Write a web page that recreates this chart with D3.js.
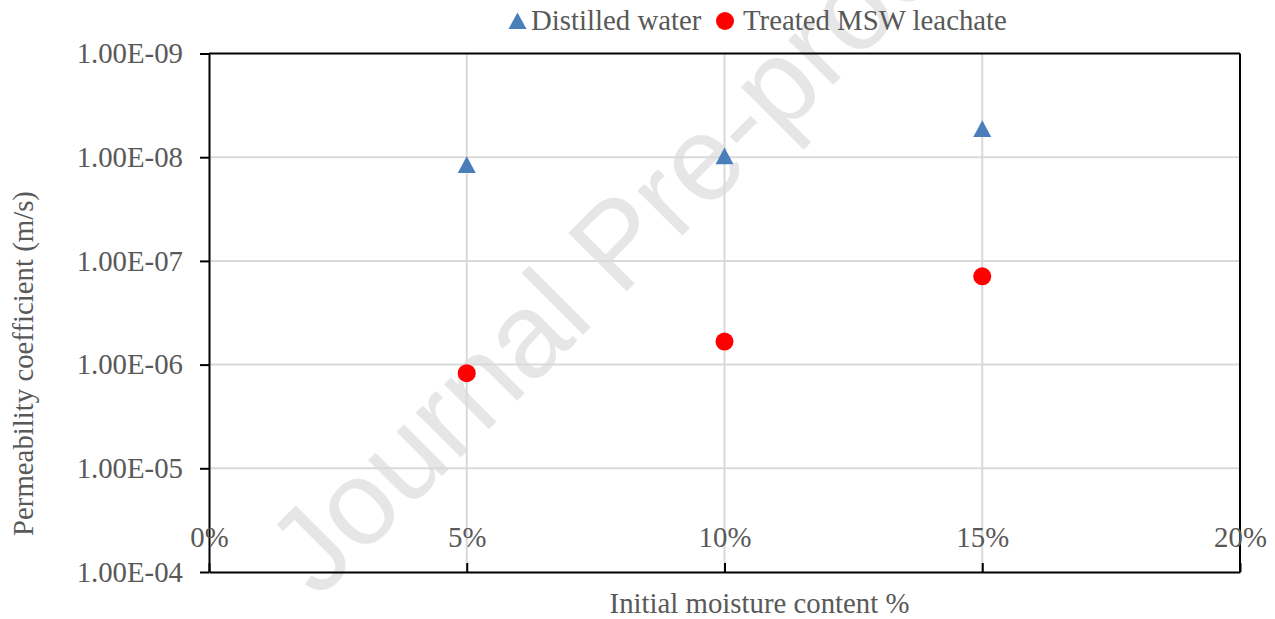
<!DOCTYPE html>
<html>
<head>
<meta charset="utf-8">
<script src="https://cdn.jsdelivr.net/npm/d3@7"></script>
<style>
  html, body { margin: 0; padding: 0; background: #ffffff; }
  svg { display: block; }
</style>
</head>
<body>
<div id="chart"></div>
<script>
// ---- Data ----
const moisture = [0.05, 0.10, 0.15];
const distilledWater = [1.18e-8, 9.7e-9, 5.3e-9];
const treatedLeachate = [1.21e-6, 6.0e-7, 1.41e-7];
const seriesNames = ["Distilled water", "Treated MSW leachate"];
const xTickValues = [0, 0.05, 0.10, 0.15, 0.20];
const xTickLabels = ["0%", "5%", "10%", "15%", "20%"];
const yTickValues = [1e-9, 1e-8, 1e-7, 1e-6, 1e-5, 1e-4];
const yTickLabels = ["1.00E-09", "1.00E-08", "1.00E-07", "1.00E-06", "1.00E-05", "1.00E-04"];
const xTitle = "Initial moisture content %";
const yTitle = "Permeability coefficient (m/s)";
const watermarkText = "Journal Pre-proof";

(function () {
// ---- Layout ----
const W = 1275, H = 619;
const pL = 209, pR = 1240, pT = 53.5, pB = 572;
const font = "'Liberation Serif', 'Times New Roman', serif";
const fs = 28.8;
const textColor = "#595959";

const svg = d3.select("#chart").append("svg")
  .attr("width", W).attr("height", H)
  .attr("viewBox", `0 0 ${W} ${H}`);

const x = d3.scaleLinear().domain([0, 0.20]).range([pL, pR]);
const y = d3.scaleLog().domain([1e-9, 1e-4]).range([pT, pB]);

// Watermark (under the chart)
svg.append("text")
  .attr("transform", "translate(318,600) rotate(-45)")
  .attr("font-family", "'Liberation Sans', Arial, sans-serif")
  .attr("font-size", 120)
  .attr("fill", "#e6e6e6")
  .text(watermarkText);

// Gridlines
const grid = svg.append("g");
grid.selectAll("line.h").data(yTickValues.slice(1, -1)).join("line")
  .attr("x1", pL).attr("x2", pR)
  .attr("y1", d => y(d)).attr("y2", d => y(d))
  .attr("stroke", "#d9d9d9").attr("stroke-width", 2);
grid.selectAll("line.v").data(xTickValues.slice(1, -1)).join("line")
  .attr("x1", d => x(d)).attr("x2", d => x(d))
  .attr("y1", pT).attr("y2", pB)
  .attr("stroke", "#d9d9d9").attr("stroke-width", 2);

// Frame top & right
svg.append("line").attr("x1", pL).attr("x2", pR).attr("y1", pT).attr("y2", pT)
  .attr("stroke", "#000").attr("stroke-width", 2);
svg.append("line").attr("x1", pR).attr("x2", pR).attr("y1", pT).attr("y2", pB)
  .attr("stroke", "#000").attr("stroke-width", 2);

// Y axis
const yAxis = svg.append("g").attr("transform", `translate(${pL},0)`)
  .call(d3.axisLeft(y).tickValues(yTickValues).tickSize(9).tickSizeOuter(0)
    .tickFormat((d, i) => yTickLabels[i]));
yAxis.select(".domain").attr("stroke", "#000").attr("stroke-width", 2);
yAxis.selectAll(".tick line").attr("stroke", "#000").attr("stroke-width", 2);
yAxis.selectAll(".tick text")
  .attr("x", -26).attr("dy", "0.32em")
  .attr("font-family", font).attr("font-size", fs).attr("fill", textColor);

// X axis (ticks inside, labels inside above axis)
const xAxis = svg.append("g").attr("transform", `translate(0,${pB})`)
  .call(d3.axisBottom(x).tickValues(xTickValues).tickSize(-9).tickSizeOuter(0)
    .tickFormat((d, i) => xTickLabels[i]));
xAxis.select(".domain").attr("stroke", "#000").attr("stroke-width", 2);
xAxis.selectAll(".tick line").attr("stroke", "#000").attr("stroke-width", 2);
xAxis.selectAll(".tick text")
  .attr("y", -25).attr("dy", 0)
  .attr("font-family", font).attr("font-size", fs).attr("fill", textColor);

// Markers
const triPath = "M-9,8.3L9,8.3L0,-8.3Z";
svg.append("g").selectAll("path").data(moisture.map((m, i) => [m, distilledWater[i]])).join("path")
  .attr("d", triPath)
  .attr("transform", d => `translate(${x(d[0])},${y(d[1])})`)
  .attr("fill", "#4a7ebb");
svg.append("g").selectAll("circle").data(moisture.map((m, i) => [m, treatedLeachate[i]])).join("circle")
  .attr("cx", d => x(d[0])).attr("cy", d => y(d[1])).attr("r", 9)
  .attr("fill", "#ff0000");

// Legend
const lg = svg.append("g");
lg.append("path").attr("d", triPath).attr("transform", "translate(517.5,20.7)").attr("fill", "#4a7ebb");
lg.append("text").attr("x", 531).attr("y", 29.5)
  .attr("font-family", font).attr("font-size", fs).attr("fill", textColor).text(seriesNames[0]);
lg.append("circle").attr("cx", 725).attr("cy", 21).attr("r", 9).attr("fill", "#ff0000");
lg.append("text").attr("x", 743).attr("y", 29.5)
  .attr("font-family", font).attr("font-size", fs).attr("fill", textColor).text(seriesNames[1]);

// Axis titles
svg.append("text").attr("x", (pL + pR) / 2 + 35).attr("y", 613)
  .attr("text-anchor", "middle")
  .attr("font-family", font).attr("font-size", fs).attr("fill", textColor).text(xTitle);
svg.append("text").attr("transform", "translate(33,363.5) rotate(-90)")
  .attr("text-anchor", "middle")
  .attr("font-family", font).attr("font-size", fs).attr("fill", textColor).text(yTitle);
})();
</script>
</body>
</html>
